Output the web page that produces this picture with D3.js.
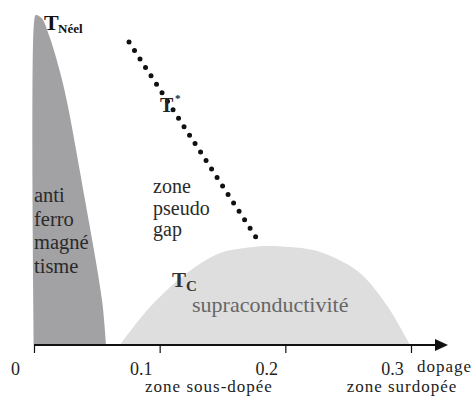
<!DOCTYPE html>
<html>
<head>
<meta charset="utf-8">
<script src="https://cdn.jsdelivr.net/npm/d3@7"></script>
<style>
  html, body { margin: 0; padding: 0; background: #fff; }
  svg { display: block; }
</style>
</head>
<body>
<script>
// Phase diagram of cuprates: doping on x, temperature (arbitrary units) on y
const dopingTicks = [0, 0.1, 0.2, 0.3];
const tickLabels = ["0", "0.1", "0.2", "0.3"];

// antiferromagnetic dome (doping, T)
const afDoping = [0, 0, 0.0015, 0.006, 0.0127, 0.0207, 0.0263, 0.0406, 0.0541, 0.0573];
const afTemp   = [0, 322, 330, 327, 307, 273, 243, 145, 45, 0];

// superconducting dome (doping, T)
const scDoping = [0.0684, 0.0923, 0.1217, 0.148, 0.1679, 0.1838, 0.2037, 0.222, 0.2379, 0.2594, 0.2817, 0.2992];
const scTemp   = [0, 38, 72, 92, 97, 99, 98, 95, 88, 72, 38, 0];

// pseudogap crossover T*
const tStarDoping = [0.0756, 0.1806];
const tStarTemp   = [303, 100];

const W = 473, H = 396;
const FONT = '"Liberation Serif", "Times New Roman", Times, serif';

const x = d3.scaleLinear().domain([0, 0.3]).range([34, 411]);
const y = d3.scaleLinear().domain([0, 330]).range([345, 15]);

const svg = d3.select("body").append("svg")
  .attr("width", W).attr("height", H)
  .style("font-family", FONT);

const area = d3.area()
  .x(d => x(d[0]))
  .y0(y(0))
  .y1(d => y(d[1]));

// AF dome
svg.append("path")
  .attr("d", area.curve(d3.curveCatmullRom)(afDoping.map((d, i) => [d, afTemp[i]])))
  .attr("fill", "#a2a2a4");

// SC dome
svg.append("path")
  .attr("d", area.curve(d3.curveCatmullRom)(scDoping.map((d, i) => [d, scTemp[i]])))
  .attr("fill", "#dedede");

// T* dotted line
svg.append("path")
  .attr("d", d3.line().x(d => x(d[0])).y(d => y(d[1]))(tStarDoping.map((d, i) => [d, tStarTemp[i]])))
  .attr("fill", "none")
  .attr("stroke", "#111")
  .attr("stroke-width", 5)
  .attr("stroke-linecap", "round")
  .attr("stroke-dasharray", "0,10.1");

// x axis
const axisY = y(0);
const xEnd = x.range()[1] + 37;
svg.append("line")
  .attr("x1", x(0)).attr("x2", xEnd - 8)
  .attr("y1", axisY).attr("y2", axisY)
  .attr("stroke", "#111").attr("stroke-width", 2.2);
svg.append("path")
  .attr("d", `M${xEnd},${axisY} L${xEnd - 13},${axisY - 6} L${xEnd - 13},${axisY + 6} Z`)
  .attr("fill", "#111");

const xAxis = d3.axisBottom(x)
  .tickValues(dopingTicks)
  .tickFormat((d, i) => tickLabels[i])
  .tickSize(8)
  .tickPadding(9);
const gx = svg.append("g")
  .attr("transform", `translate(0,${axisY})`)
  .call(xAxis);
gx.select(".domain").remove();
gx.selectAll(".tick line").attr("stroke", "#111").attr("stroke-width", 1.2);
gx.selectAll(".tick text")
  .attr("dx", -19)
  .attr("fill", "#222")
  .style("font-family", FONT)
  .style("font-size", "18px");

// labels
function label(txt, px, py, size, opts = {}) {
  const t = svg.append("text")
    .attr("x", px).attr("y", py)
    .attr("fill", opts.fill || "#222")
    .attr("font-size", size)
    .attr("font-weight", opts.bold ? 700 : 400)
    .attr("text-anchor", opts.anchor || "start")
    .text(txt);
  if (opts.spacing) t.attr("letter-spacing", opts.spacing);
  return t;
}

label("dopage", 417, 372, 17, { spacing: 1 });
label("zone sous-dopée", 209, 392, 17, { anchor: "middle", spacing: 1 });
label("zone surdopée", 402, 392, 17, { anchor: "middle", spacing: 1 });

// T Néel
label("T", 44, 30, 22, { bold: true, fill: "#111" });
label("Néel", 58, 33, 13, { bold: true, fill: "#111" });

// T*
label("T", 160, 112, 20, { bold: true, fill: "#222" });
label("*", 175, 102, 11, { bold: true, fill: "#222" });

// Tc
label("T", 172, 287, 21, { bold: true, fill: "#333" });
label("C", 186, 291, 15, { bold: true, fill: "#333" });

// region names
["anti", "ferro", "magné", "tisme"].forEach((w, i) => label(w, 34, 202 + i * 23.5, 20.5, { fill: "#2a2a2a" }));
["zone", "pseudo", "gap"].forEach((w, i) => label(w, 153, 193 + i * 21.5, 20, { fill: "#2a2a2a" }));
label("supraconductivité", 192, 312, 22, { fill: "#666" });
</script>
</body>
</html>
